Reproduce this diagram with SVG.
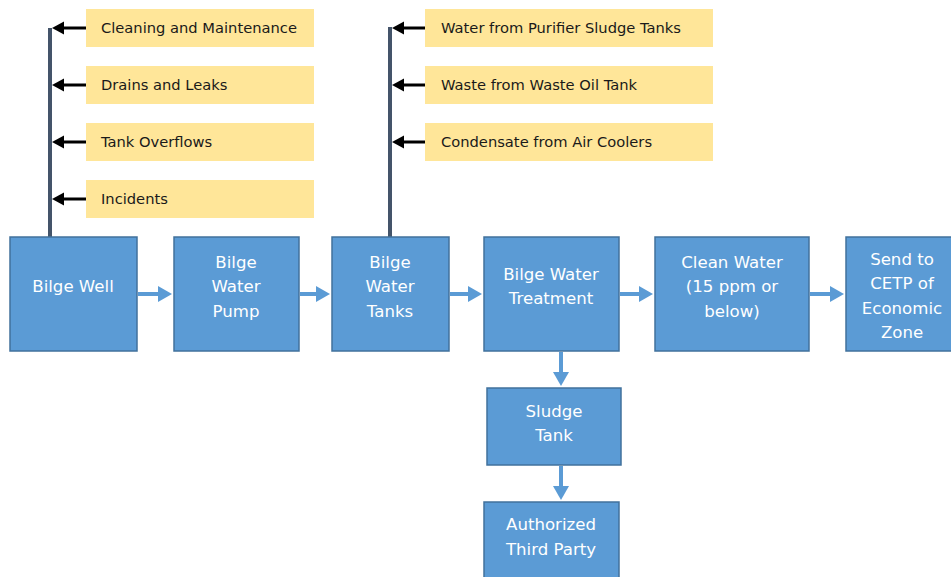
<svg xmlns="http://www.w3.org/2000/svg" width="951" height="577" viewBox="0 0 951 577">
<style>
.src rect{fill:#ffe699}
.src text{font-family:"DejaVu Sans","Liberation Sans",sans-serif;font-size:14.7px;fill:#1a1a1a}
.node rect{fill:#5b9bd5;stroke:#41719c;stroke-width:1.5}
.node text{font-family:"DejaVu Sans","Liberation Sans",sans-serif;font-size:16.6px;fill:#fff;text-anchor:middle}
.bus{stroke:#44546a;stroke-width:4;fill:none}
.in{stroke:#000;stroke-width:3;fill:none}
.flow{stroke:#5b9bd5;stroke-width:4;fill:none}
</style>
<defs>
<marker id="ab" markerWidth="4" markerHeight="4.4" refX="2" refY="2.2" orient="auto" markerUnits="strokeWidth"><path d="M0,0 L4,2.2 L0,4.4 z" fill="#000"/></marker>
<marker id="af" markerWidth="3.5" markerHeight="4" refX="2" refY="2" orient="auto" markerUnits="strokeWidth"><path d="M0,0 L3.5,2 L0,4 z" fill="#5b9bd5"/></marker>
</defs>
<rect width="951" height="577" fill="#fff"/>
<g id="sources-left" class="src">
<g id="src-cleaning"><rect x="86" y="9" width="228" height="38"/><text x="101" y="33">Cleaning and Maintenance</text></g>
<g id="src-drains"><rect x="86" y="66" width="228" height="38"/><text x="101" y="90">Drains and Leaks</text></g>
<g id="src-overflows"><rect x="86" y="123" width="228" height="38"/><text x="101" y="147">Tank Overflows</text></g>
<g id="src-incidents"><rect x="86" y="180" width="228" height="38"/><text x="101" y="204">Incidents</text></g>
</g>
<g id="sources-right" class="src">
<g id="src-purifier"><rect x="425" y="9" width="288" height="38"/><text x="441" y="33">Water from Purifier Sludge Tanks</text></g>
<g id="src-wasteoil"><rect x="425" y="66" width="288" height="38"/><text x="441" y="90">Waste from Waste Oil Tank</text></g>
<g id="src-condensate"><rect x="425" y="123" width="288" height="38"/><text x="441" y="147">Condensate from Air Coolers</text></g>
</g>
<g id="connectors">
<path class="bus" d="M50,28 V237"/>
<path class="bus" d="M390,27 V237"/>
<path class="in" d="M86,28 H58" marker-end="url(#ab)"/>
<path class="in" d="M86,85 H58" marker-end="url(#ab)"/>
<path class="in" d="M86,142 H58" marker-end="url(#ab)"/>
<path class="in" d="M86,199 H58" marker-end="url(#ab)"/>
<path class="in" d="M425,28 H398" marker-end="url(#ab)"/>
<path class="in" d="M425,85 H398" marker-end="url(#ab)"/>
<path class="in" d="M425,142 H398" marker-end="url(#ab)"/>
<path class="flow" d="M138,294 H166" marker-end="url(#af)"/>
<path class="flow" d="M300,294 H324" marker-end="url(#af)"/>
<path class="flow" d="M450,294 H476" marker-end="url(#af)"/>
<path class="flow" d="M620,294 H647" marker-end="url(#af)"/>
<path class="flow" d="M810,294 H838" marker-end="url(#af)"/>
<path class="flow" d="M561,352 V380" marker-end="url(#af)"/>
<path class="flow" d="M561,466 V494" marker-end="url(#af)"/>
</g>
<g id="bilge-well" class="node"><rect x="10" y="237" width="127" height="114"/><text x="73" y="292">Bilge Well</text></g>
<g id="bilge-pump" class="node"><rect x="174" y="237" width="125" height="114"/><text x="236" y="268">Bilge</text><text x="236" y="292">Water</text><text x="236" y="317">Pump</text></g>
<g id="bilge-tanks" class="node"><rect x="332" y="237" width="117" height="114"/><text x="390" y="268">Bilge</text><text x="390" y="292">Water</text><text x="390" y="317">Tanks</text></g>
<g id="treatment" class="node"><rect x="484" y="237" width="135" height="114"/><text x="551" y="280">Bilge Water</text><text x="551" y="304">Treatment</text></g>
<g id="clean-water" class="node"><rect x="655" y="237" width="154" height="114"/><text x="732" y="268">Clean Water</text><text x="732" y="292">(15 ppm or</text><text x="732" y="317">below)</text></g>
<g id="cetp" class="node"><rect x="846" y="237" width="110" height="114"/><text x="902" y="265">Send to</text><text x="902" y="289">CETP of</text><text x="902" y="314">Economic</text><text x="902" y="338">Zone</text></g>
<g id="sludge-tank" class="node"><rect x="487" y="388" width="134" height="77"/><text x="554" y="417">Sludge</text><text x="554" y="441">Tank</text></g>
<g id="third-party" class="node"><rect x="484" y="502" width="135" height="80"/><text x="551" y="530">Authorized</text><text x="551" y="555">Third Party</text></g>
</svg>
